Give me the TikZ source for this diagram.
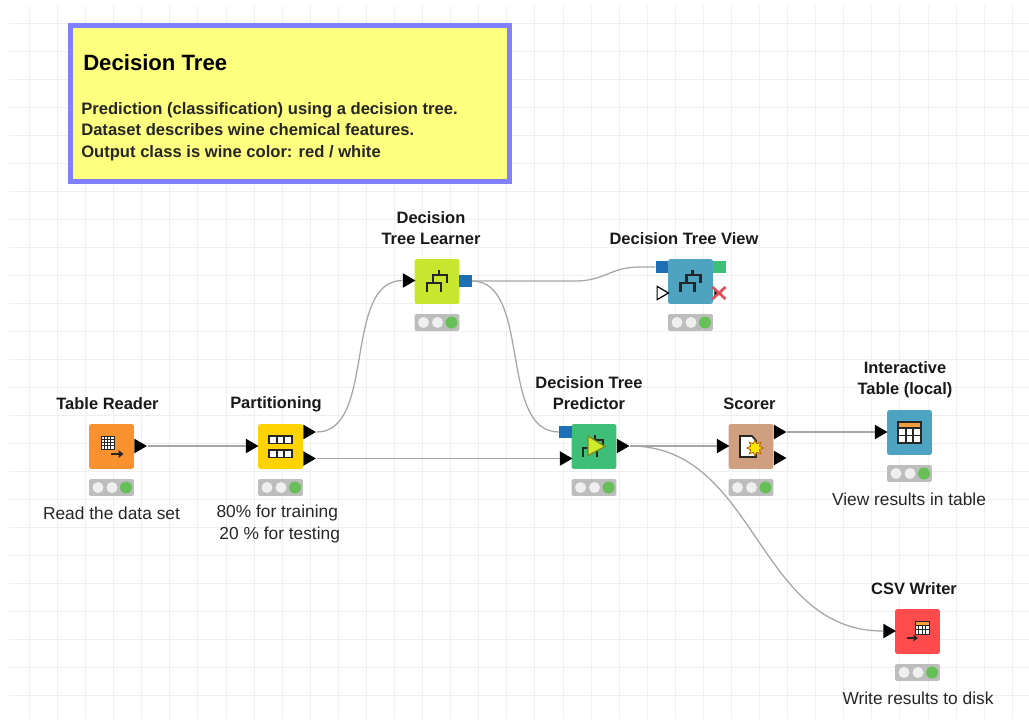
\documentclass[tikz,border=0pt]{standalone}
\usepackage{fontspec}
\setmainfont{Liberation Sans}
\usetikzlibrary{shapes.geometric}
\definecolor{gridc}{HTML}{EFEFEF}
\definecolor{wirec}{HTML}{A6A6A6}
\definecolor{cOrange}{HTML}{F9922E}
\definecolor{cYellow}{HTML}{FFD200}
\definecolor{cLime}{HTML}{C8E62E}
\definecolor{cTeal}{HTML}{4EA3C1}
\definecolor{cGreen}{HTML}{3DBF78}
\definecolor{cTan}{HTML}{CF9F80}
\definecolor{cRed}{HTML}{FF4B4B}
\definecolor{cBlue}{HTML}{1F6FB5}
\definecolor{noteFill}{HTML}{FFFF7F}
\definecolor{noteBorder}{HTML}{8080FF}
\definecolor{tlGray}{HTML}{BDBDBD}
\definecolor{tlOff}{HTML}{EFEFEF}
\definecolor{tlOn}{HTML}{66BF57}
\definecolor{hdr}{HTML}{F39C3D}
\definecolor{xred}{HTML}{E0505A}
\tikzset{
  knode/.style={rounded corners=1.5pt,minimum size=33.5pt,inner sep=0pt,fill=#1},
  tlight/.style={rounded corners=1pt,minimum width=33.5pt,minimum height=12.6pt,inner sep=0pt,fill=tlGray},
  porttri/.style={isosceles triangle,isosceles triangle stretches,shape border rotate=0,
    minimum width=11pt,minimum height=9.5pt,inner sep=0pt,anchor=west,fill=black},
  portwhite/.style={porttri,fill=white,draw=black,line width=0.9pt,minimum width=10pt,minimum height=8.5pt},
  portsq/.style={minimum width=9.5pt,minimum height=9pt,inner sep=0pt,fill=#1},
  nodename/.style={font=\fontsize{12.35pt}{15.75pt}\selectfont\bfseries,align=center,text=black!90,inner sep=0pt},
  notetext/.style={font=\fontsize{13pt}{16.2pt}\selectfont,align=center,text=black!85,inner sep=0pt},
  wire/.style={draw=wirec,line width=0.95pt},
  icon/.style={line width=2.1pt,draw=black!85},
  thin icon/.style={line width=0.7pt,draw=black!85},
  cell icon/.style={line width=1.25pt,draw=black!85}
}
\newcommand{\kbox}[4]{% name, cx, cy, colour
  \node[knode=#4] (#1) at (#2,#3) {};
  \node[tlight] (#1-tl) at (#2,#3+41) {};
  \begin{scope}[shift={(#2,#3+41)}]
    \fill[tlOff] (-13.5,0) circle (5.5);
    \fill[tlOff] (0.5,0) circle (5.5);
    \fill[tlOn] (14.5,0) circle (6);
  \end{scope}
}
\newcommand{\treeicon}{%
  \draw[icon] (2,-11.5) -- (2,-6.5) (-4,1.5) -- (-4,-6.5) -- (10,-6.5) -- (10,1.5)
    (-10,10) -- (-10,1.5) -- (4,1.5) -- (4,10);
}
\begin{document}
\begin{tikzpicture}[x=0.75pt,y=-0.75pt]
\useasboundingbox (0,0) rectangle (1029,719);
\fill[white] (0,0) rectangle (1029,719);
% grid
\foreach \k in {0,...,35} \draw[gridc,line width=0.75pt] ({round(29+28.08*\k)+0.5},6) -- ({round(29+28.08*\k)+0.5},719);
\foreach \k in {0,...,24} \draw[gridc,line width=0.75pt] (9,{round(23.3+27.98*\k)+0.5}) -- (1029,{round(23.3+27.98*\k)+0.5});
% annotation
\node[draw=noteBorder,fill=noteFill,line width=3.75pt,minimum width=329pt,minimum height=117pt,inner sep=0pt] (note) at (289.8,103.8) {};
\node[anchor=west,inner sep=0pt,font=\fontsize{16.6pt}{20pt}\selectfont\bfseries] (notetitle) at (83,62.5) {Decision Tree};
\node[anchor=north west,inner sep=0pt,align=left,font=\fontsize{12.45pt}{16.1pt}\selectfont\bfseries,text=black!85] (notebody) at (81,102) {Prediction (classification) using a decision tree.\\Dataset describes wine chemical features.\\Output class is wine color: red / white};
% boxes
\kbox{reader}{111.5}{446.5}{cOrange}
\kbox{part}{280.5}{446.5}{cYellow}
\kbox{learner}{437}{281.5}{cLime}
\kbox{view}{690.5}{281.5}{cTeal}
\kbox{pred}{594}{446.5}{cGreen}
\kbox{scorer}{751}{446.5}{cTan}
\kbox{itable}{909.5}{432.5}{cTeal}
\kbox{csv}{917.5}{631.5}{cRed}
% ports
\node[porttri] (reader-o) at (134,446) {};
\node[porttri] (part-i) at (245.5,446) {};
\node[porttri] (part-o1) at (303,432) {};
\node[porttri] (part-o2) at (303,458.5) {};
\node[porttri] (learner-i) at (402.5,280.5) {};
\node[portsq=cBlue] (learner-o) at (465.5,281) {};
\node[portsq=cBlue] (view-i1) at (662,267) {};
\node[portwhite] (view-i2) at (656.5,293) {};
\node[portsq=cGreen] (view-o1) at (719.5,267) {};
\node[portsq=cBlue] (pred-i1) at (565.5,432) {};
\node[porttri] (pred-i2) at (559.5,458.5) {};
\node[porttri] (pred-o) at (616.5,446) {};
\node[porttri] (scorer-i) at (716.5,446) {};
\node[porttri] (scorer-o1) at (773.5,432) {};
\node[porttri] (scorer-o2) at (773.5,458) {};
\node[porttri] (itable-i) at (874.5,432) {};
\node[porttri] (csv-i) at (883,631) {};
% view's inactive output
\node[porttri,minimum width=5pt,minimum height=6pt] (view-o2) at (714,293) {};
\draw[line width=2pt,xred] (712.5,287) -- (725.5,299) (712.5,299) -- (725.5,287);
% wires
\draw[wire] (reader-o.east) -- (part-i.west);
\draw[wire] (part-o1.east) .. controls +(60,0) and +(-60,0) .. (learner-i.west);
\draw[wire] (part-o2.east) -- (pred-i2.west);
\draw[wire] (learner-o.east) -- +(103,0) .. controls +(30,0) and +(-30,0) .. (640,267) -- (view-i1.west);
\draw[wire] (learner-o.east) .. controls +(60,0) and +(-61,0) .. (pred-i1.west);
\draw[wire] (pred-o.east) -- (scorer-i.west);
\draw[wire] (pred-o.east) .. controls +(127,0) and +(-127,0) .. (csv-i.west);
\draw[wire] (scorer-o1.east) -- (itable-i.west);
% icons
\begin{scope}[shift={(111.5,446.5)}]
  \fill[white] (-10.5,-10.5) rectangle (2.5,2.5);
  \draw[thin icon] (-10.5,-10.5) rectangle (2.5,2.5);
  \foreach \t in {-7.25,-4,-0.75} {\draw[thin icon] (\t,-10.5) -- (\t,2.5); \draw[thin icon] (-10.5,\t) -- (2.5,\t);}
  \draw[icon] (-0.5,7.5) -- (8,7.5);
  \fill[black!85] (7,3.5) -- (12,7.5) -- (7,11.5) -- cycle;
\end{scope}
\begin{scope}[shift={(280.5,446.5)}]
  \foreach \a/\b in {-10.5/-3,3.5/11} {
    \draw[cell icon,fill=white] (-11.5,\a) rectangle (11.5,\b);
    \draw[cell icon] (-3.8,\a) -- (-3.8,\b) (3.8,\a) -- (3.8,\b);
  }
\end{scope}
\begin{scope}[shift={(437,281.5)}] \treeicon \end{scope}
\begin{scope}[shift={(690.5,281.5)}] \treeicon \end{scope}
\begin{scope}[shift={(594,446.5)}]
  \begin{scope}[shift={(-1,0)}] \treeicon \end{scope}
  \draw[fill=cLime!85!yellow,draw=cLime!60!black,line width=0.9pt] (-6,-10.5) -- (-6,9) -- (11,0) -- cycle;
\end{scope}
\begin{scope}[shift={(751,446.5)}]
  \draw[cell icon,fill=white] (-11,-10.5) -- (1,-10.5) -- (5,-6) -- (5,10.5) -- (-11,10.5) -- cycle;
  \node[star,star points=8,star point ratio=1.7,minimum size=12pt,inner sep=0pt,fill=yellow!90!orange,draw=orange!70!black,line width=0.6pt] (scorer-star) at (4,1.5) {};
\end{scope}
\begin{scope}[shift={(909.5,432.5)}]
  \fill[white] (-11.5,-10.5) rectangle (11.5,10.5);
  \fill[hdr] (-11.5,-10.5) rectangle (11.5,-4.5);
  \draw[cell icon] (-11.5,-10.5) rectangle (11.5,10.5)
    (-11.5,-4.5) -- (11.5,-4.5) (-11.5,3) -- (11.5,3) (-3.8,-4.5) -- (-3.8,10.5) (3.8,-4.5) -- (3.8,10.5);
\end{scope}
\begin{scope}[shift={(917.5,631.5)}]
  \fill[white] (-2.5,-10.5) rectangle (11.5,2.5);
  \fill[hdr] (-2.5,-10.5) rectangle (11.5,-6.5);
  \draw[thin icon] (-2.5,-10.5) rectangle (11.5,2.5) (-2.5,-6.5) -- (11.5,-6.5) (-2.5,-2.5) -- (11.5,-2.5) (1.2,-6.5) -- (1.2,2.5) (4.5,-6.5) -- (4.5,2.5) (8,-6.5) -- (8,2.5);
  \draw[icon] (-10.5,6.5) -- (-3,6.5);
  \fill[black!85] (-4,3) -- (0.5,6.5) -- (-4,10) -- cycle;
\end{scope}
% names
\node[nodename] (l-reader) at (107.5,404) {Table Reader};
\node[nodename] (l-part) at (276,404) {Partitioning};
\node[nodename] (l-learner) at (431,228.5) {Decision\\Tree Learner};
\node[nodename] (l-view) at (684,239) {Decision Tree View};
\node[nodename] (l-pred) at (589,393.5) {Decision Tree\\Predictor};
\node[nodename] (l-scorer) at (749.5,404) {Scorer};
\node[nodename] (l-itable) at (905,379.5) {Interactive\\Table (local)};
\node[nodename] (l-csv) at (914,589) {CSV Writer};
% notes
\node[notetext] (n-reader) at (111.5,513) {Read the data set};
\node[notetext] (n-part) at (277.3,524) {80\% for training\\\ 20 \% for testing};
\node[notetext] (n-itable) at (909,499) {View results in table};
\node[notetext] (n-csv) at (918,698) {Write results to disk};
\end{tikzpicture}
\end{document}
